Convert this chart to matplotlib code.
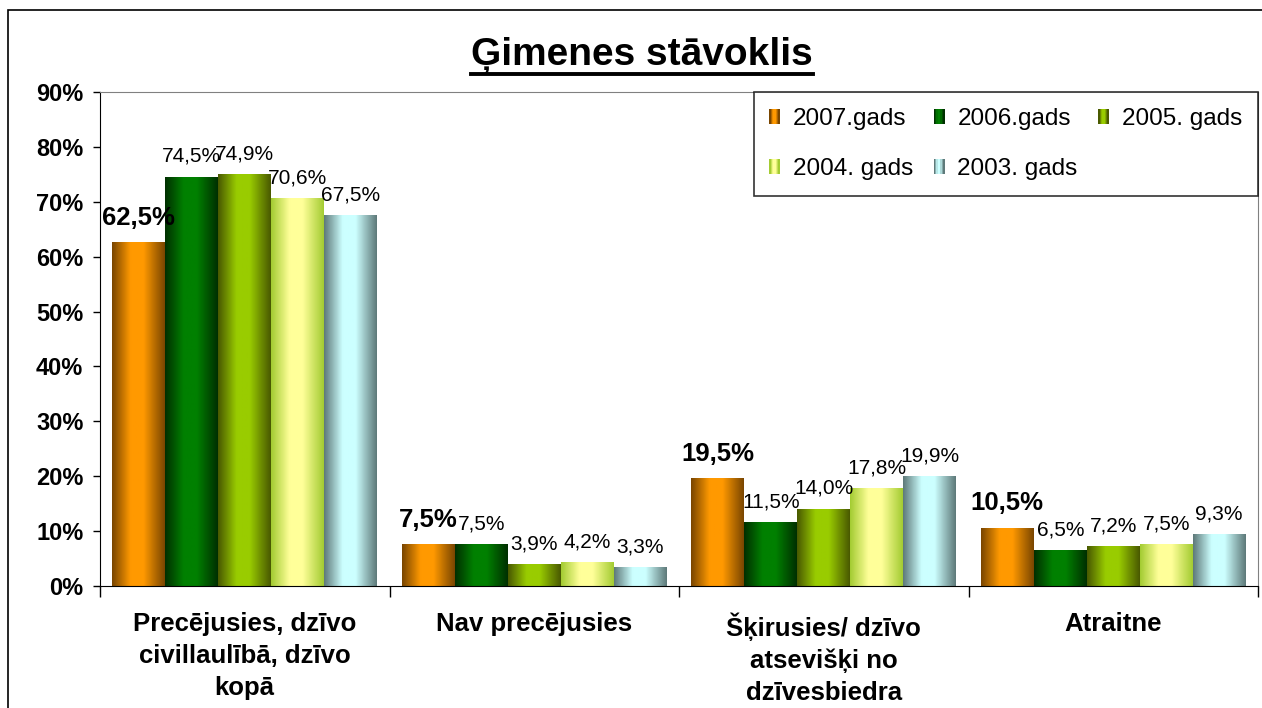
import numpy as np
import matplotlib
matplotlib.use('Agg')
import matplotlib.pyplot as plt
from matplotlib.colors import LinearSegmentedColormap
from matplotlib.patches import Rectangle
from matplotlib.lines import Line2D

plt.rcParams['font.family'] = ['Liberation Sans', 'DejaVu Sans']

# data
categories = ['Precējusies, dzīvo\ncivillaulībā, dzīvo\nkopā',
              'Nav precējusies',
              'Šķirusies/ dzīvo\natsevišķi no\ndzīvesbiedra',
              'Atraitne']
series_names = ['2007.gads', '2006.gads', '2005. gads', '2004. gads', '2003. gads']
v2007 = [62.5, 7.5, 19.5, 10.5]
v2006 = [74.5, 7.5, 11.5, 6.5]
v2005 = [74.9, 3.9, 14.0, 7.2]
v2004 = [70.6, 4.2, 17.8, 7.5]
v2003 = [67.5, 3.3, 19.9, 9.3]
values = [v2007, v2006, v2005, v2004, v2003]
yticks = [0, 10, 20, 30, 40, 50, 60, 70, 80, 90]

# (edge colour, centre colour) for the cylinder-like gradient
grad_colors = [('#7a4600', '#ff9900'),
               ('#003000', '#008000'),
               ('#4a5a00', '#99cc00'),
               ('#a4cc33', '#ffff99'),
               ('#5f7a7a', '#ccffff')]


def make_cmap(dark, bright):
    return LinearSegmentedColormap.from_list(
        'g', [(0, dark), (0.35, bright), (0.6, bright), (1, dark)])


class GradHandler:
    def __init__(self, cmap):
        self.cmap = cmap

    def legend_artist(self, legend, orig_handle, fontsize, handlebox):
        x0, y0 = -handlebox.xdescent, -handlebox.ydescent
        w, h = handlebox.width, handlebox.height
        n = 8
        r = None
        for k in range(n):
            r = Rectangle((x0 + k * w / n, y0), w / n + 0.3, h,
                          facecolor=self.cmap(k / (n - 1)), edgecolor='none',
                          transform=handlebox.get_transform())
            handlebox.add_artist(r)
        return r


fig = plt.figure(figsize=(12.62, 7.08), dpi=100)
ax = fig.add_axes([100 / 1262, 1 - 586 / 708, 1158 / 1262, 494 / 708])

x = np.arange(len(categories))
width = 0.183
grad = np.linspace(0, 1, 64)[np.newaxis, :]
cmaps = [make_cmap(d, b) for d, b in grad_colors]
proxies = []
for i, vals in enumerate(values):
    bars = ax.bar(x + (i - 2) * width, vals, width, color='none', zorder=2)
    for rect in bars:
        x0 = rect.get_x()
        ax.imshow(grad, extent=[x0, x0 + rect.get_width(), 0, rect.get_height()],
                  aspect='auto', cmap=cmaps[i], interpolation='bilinear', zorder=2)
    for rect, v in zip(bars, vals):
        lbl = ('%.1f%%' % v).replace('.', ',')
        if i == 0:
            ax.annotate(lbl, (rect.get_x() + rect.get_width() / 2, v),
                        xytext=(0, 13), textcoords='offset points',
                        ha='center', va='baseline', fontsize=18.5, fontweight='bold', zorder=4)
        else:
            ax.annotate(lbl, (rect.get_x() + rect.get_width() / 2, v),
                        xytext=(0, 11), textcoords='offset points',
                        ha='center', va='baseline', fontsize=15, zorder=4)
    proxies.append(Rectangle((0, 0), 1, 1))

ax.set_xlim(-0.5, len(categories) - 0.5)
ax.set_ylim(0, 90)

ax.set_yticks(yticks)
ax.set_yticklabels(['%d%%' % t for t in yticks], fontsize=17, fontweight='bold')
ax.tick_params(axis='y', direction='out', length=5, width=1, pad=7)

ax.set_xticks(np.arange(len(categories) + 1) - 0.5)
ax.set_xticklabels([])
ax.tick_params(axis='x', which='major', direction='out', length=8, width=1)
ax.set_xticks(x, minor=True)
ax.set_xticklabels(categories, minor=True, fontsize=18.5, fontweight='bold',
                   linespacing=1.4, va='top')
ax.tick_params(axis='x', which='minor', length=0, pad=19)

ax.spines['top'].set_color('#808080')
ax.spines['right'].set_color('#808080')
ax.spines['left'].set_color('black')
ax.spines['bottom'].set_color('black')

# legend is filled row by row, matplotlib fills column by column
order = [0, 3, 1, 4, 2]
handles = [proxies[k] for k in order]
labels = [series_names[k] for k in order]
leg = ax.legend(handles, labels, ncol=3, loc='upper right',
                bbox_to_anchor=(1.0, 1.0), borderaxespad=0, fontsize=17.5,
                handler_map={p: GradHandler(c) for p, c in zip(proxies, cmaps)},
                handlelength=0.42, handleheight=0.6, handletextpad=0.55,
                columnspacing=0.85, labelspacing=1.17, borderpad=0.65,
                frameon=True, fancybox=False, edgecolor='black')
leg.get_frame().set_linewidth(1.2)

# title with underline
title = fig.text(0.509, 1 - 55 / 708, 'Ģimenes stāvoklis', ha='center', va='center',
                 fontsize=28, fontweight='bold')
fig.canvas.draw()
bb = title.get_window_extent().transformed(fig.transFigure.inverted())
fig.add_artist(Line2D([bb.x0, bb.x1], [1 - 74 / 708, 1 - 74 / 708], color='black',
                      linewidth=2.8, transform=fig.transFigure))

# outer chart border
fig.add_artist(Rectangle((8 / 1262, -0.05), 1.2, 1.05 - 10 / 708, fill=False,
                         edgecolor='black', linewidth=1.2, transform=fig.transFigure))

fig.savefig('out.png', dpi=100)
